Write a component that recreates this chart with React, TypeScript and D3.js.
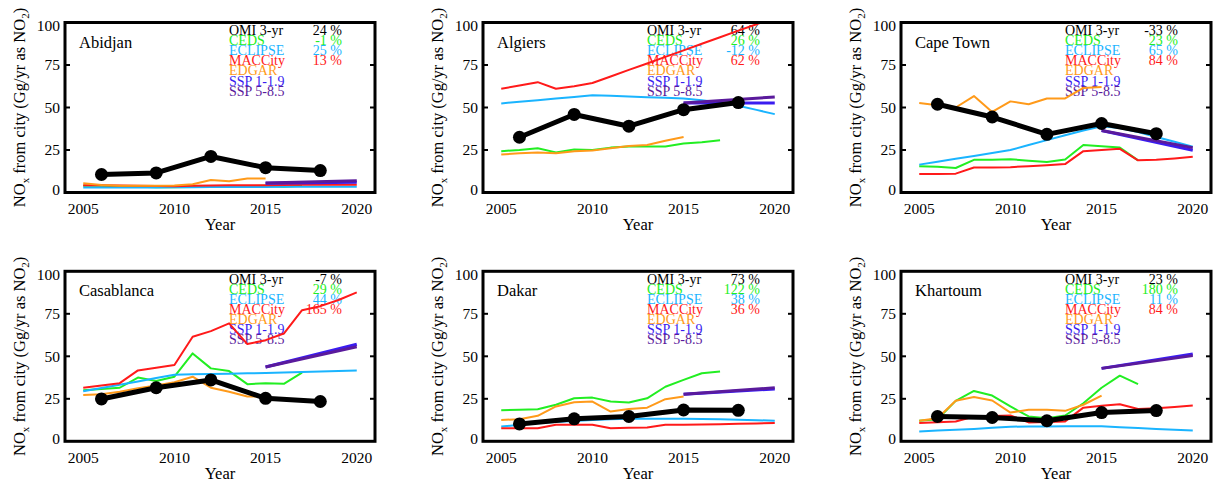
import React, { useEffect, useRef } from 'react';
import * as d3 from 'd3';

// city order: row by row, left to right
const cities = ['Abidjan', 'Algiers', 'Cape Town', 'Casablanca', 'Dakar', 'Khartoum'];

const annualYears = [2005, 2006, 2007, 2008, 2009, 2010, 2011, 2012, 2013, 2014, 2015, 2016, 2017, 2018, 2019, 2020];
const cedsYears = [2005, 2006, 2007, 2008, 2009, 2010, 2011, 2012, 2013, 2014, 2015, 2016, 2017];
const edgarYears = [2005, 2006, 2007, 2008, 2009, 2010, 2011, 2012, 2013, 2014, 2015];
const omiYears = [2006, 2009, 2012, 2015, 2018];
const sspYears = [2015, 2020];

const xTicks = [2005, 2010, 2015, 2020];
const yTicks = [0, 25, 50, 75, 100];

// OMI 3-yr averages (Gg/yr)
const omiValues = [
  [10.6, 11.5, 21.2, 14.6, 12.9],
  [32.5, 45.9, 39, 48.7, 52.9],
  [51.9, 44.4, 34.2, 40.6, 34.6],
  [24.9, 31.5, 36.1, 25.3, 23.4],
  [10.2, 13.2, 14.6, 18.4, 18.2],
  [14.6, 14, 12.1, 16.9, 18.1],
];

const cedsValues = [
  [4, 3.9, 3.7, 3.4, 3.1, 3.1, 3.2, 3.4, 3.5, 3.7, 3.9, 3.4, 3.9],
  [24.3, 25, 26, 23.6, 25.3, 25, 26.4, 27, 27, 27.1, 28.8, 29.6, 30.8],
  [15.4, 15.1, 14.4, 19.2, 19.2, 19.6, 18.7, 17.9, 19.4, 27.9, 27.2, 26.4, 18.9],
  [30, 30.8, 31.5, 37.5, 35.5, 38, 51.7, 42.9, 41.3, 33.6, 34.2, 33.8, 40.4],
  [18.3, 18.5, 18.8, 21.5, 25.3, 25.7, 23.4, 22.8, 25.3, 32.1, 36.1, 40, 41],
  [12.1, 13, 23.8, 29.6, 26.9, 20.5, 14.6, 13.6, 15.2, 22.4, 31.5, 38.6, 33.6],
];

const eclipseValues = [
  [3, 3, 3, 3, 3, 3.1, 3.1, 3.2, 3.2, 3.3, 3.3, 3.4, 3.4, 3.4, 3.4, 3.4],
  [52.4, 53.4, 54.3, 55.3, 56.2, 57.2, 56.9, 56.5, 56.1, 55.8, 55.3, 54.3, 52.9, 51, 48.6, 46.1],
  [16.4, 18.1, 19.8, 21.5, 23.3, 25, 27.9, 30.8, 33.7, 36.5, 38.9, 38, 35.6, 32.7, 29.8, 26.9],
  [29.4, 31.4, 33.3, 35.2, 37.2, 39.1, 39.4, 39.6, 39.8, 40, 40.2, 40.5, 40.8, 41.1, 41.4, 41.7],
  [8.7, 9.7, 10.7, 11.4, 12, 12.6, 12.9, 13.2, 13.2, 13.2, 13.2, 13.1, 12.9, 12.7, 12.4, 12.1],
  [5.7, 6.3, 6.8, 7.3, 8, 8.6, 8.7, 8.7, 8.8, 8.8, 8.8, 8.3, 7.8, 7.3, 6.8, 6.3],
];

const maccityValues = [
  [4.2, 4.2, 4.1, 3.9, 3.8, 3.7, 3.9, 4.1, 4.2, 4.2, 4.3, 4.4, 4.5, 4.5, 4.6, 4.6],
  [61, 63, 64.9, 61, 62.5, 64.4, 68.2, 72.1, 75.9, 79.8, 83.6, 87.5, 91.3, 95.2, 99, 102.8],
  [10.9, 10.9, 11.1, 14.7, 14.7, 14.9, 15.5, 16.1, 16.7, 24.3, 25, 25.7, 18.9, 19.2, 20, 21],
  [31.5, 32.8, 34.2, 41.7, 43.3, 44.9, 61.5, 64.8, 69.4, 57.2, 59.5, 63.4, 77.1, 79.5, 83.1, 87.6],
  [7.7, 7.7, 7.7, 9.7, 9.7, 9.7, 7.7, 7.9, 8.1, 9.7, 9.7, 9.9, 10.1, 10.3, 10.5, 10.7],
  [10.7, 11.2, 11.7, 14.6, 14.9, 15.2, 11.1, 11.3, 11.7, 19.8, 20.9, 21.8, 19, 19.4, 20.2, 21.1],
];

const edgarValues = [
  [5.4, 4.4, 4, 3.9, 3.9, 4.1, 4.8, 7.3, 6.6, 8.3, 8.3],
  [22.3, 23.1, 23.6, 23.1, 24.3, 24.7, 26, 27.3, 27.9, 30.4, 32.7],
  [52.7, 51.3, 50, 56.7, 47.4, 53.6, 51.9, 55.3, 55.3, 61.5, 62],
  [27.3, 27.7, 29.2, 31.2, 32.8, 34.7, 38, 31.5, 29.2, 26.3, 26.3],
  [12.6, 13, 15, 20.5, 23, 23.4, 17.5, 19, 19.8, 24.8, 26.3],
  [12.1, 13.6, 23.8, 26.1, 24, 16.9, 18.6, 18.6, 17.9, 21.5, 26.9],
];

const ssp119Values = [
  [5.4, 6.1],
  [52.7, 52.7],
  [36.5, 24.8],
  [43.7, 57.1],
  [27.7, 30.8],
  [42.9, 51.3],
];

const ssp585Values = [
  [5.6, 6.9],
  [52.7, 56.2],
  [36.5, 26.4],
  [43.7, 55.6],
  [27.7, 31.5],
  [42.9, 50.4],
];

const omiPct = ['24 %', '64 %', '-33 %', '-7 %', '73 %', '23 %'];
const cedsPct = ['-1 %', '26 %', '23 %', '29 %', '122 %', '180 %'];
const eclipsePct = ['25 %', '-12 %', '65 %', '44 %', '38 %', '11 %'];
const maccityPct = ['13 %', '62 %', '84 %', '165 %', '36 %', '84 %'];

const FONT = 'Liberation Serif, serif';

const App = () => {
  const chartRef = useRef(null);

  useEffect(() => {
    const svg = d3
      .select(chartRef.current)
      .append('svg')
      .attr('width', 1219)
      .attr('height', 486)
      .style('position', 'absolute')
      .style('left', '0px')
      .style('top', '0px')
      .style('background', 'white')
      .attr('font-family', FONT);

    const boxW = 310;
    const boxH = 170;

    cities.forEach((city, c) => {
      const left = 65 + (c % 3) * 418;
      const top = 22.5 + Math.floor(c / 3) * 248.8;

      const x = d3.scaleLinear().domain([2004, 2021]).range([0, boxW]);
      const y = d3.scaleLinear().domain([0, 100]).range([boxH, 0]);

      const g = svg.append('g').attr('transform', `translate(${left}, ${top})`);

      g.append('clipPath')
        .attr('id', `clip-${c}`)
        .append('rect')
        .attr('width', boxW)
        .attr('height', boxH);

      // legend
      const legend = [
        { name: 'OMI 3-yr', color: '#000000', pct: omiPct[c] },
        { name: 'CEDS', color: '#22ee22', pct: cedsPct[c] },
        { name: 'ECLIPSE', color: '#1ab4ff', pct: eclipsePct[c] },
        { name: 'MACCity', color: '#ff1a1a', pct: maccityPct[c] },
        { name: 'EDGAR', color: '#ff9a1a', pct: '' },
        { name: 'SSP 1-1.9', color: '#3a1cf0', pct: '' },
        { name: 'SSP 5-8.5', color: '#5a1a9c', pct: '' },
      ];
      legend.forEach((d, i) => {
        g.append('text')
          .attr('x', 164)
          .attr('y', 12.5 + i * 10.1)
          .attr('font-size', 14)
          .attr('fill', d.color)
          .text(d.name);
        if (d.pct) {
          g.append('text')
            .attr('x', 277)
            .attr('y', 12.5 + i * 10.1)
            .attr('font-size', 14)
            .attr('text-anchor', 'end')
            .attr('fill', d.color)
            .text(d.pct);
        }
      });

      g.append('text')
        .attr('x', 14)
        .attr('y', 25)
        .attr('font-size', 16.5)
        .text(city);

      const series = [
        { yrs: cedsYears, vals: cedsValues[c], color: '#22ee22', w: 2 },
        { yrs: annualYears, vals: eclipseValues[c], color: '#1ab4ff', w: 2 },
        { yrs: annualYears, vals: maccityValues[c], color: '#ff1a1a', w: 2 },
        { yrs: edgarYears, vals: edgarValues[c], color: '#ff9a1a', w: 2 },
        { yrs: sspYears, vals: ssp119Values[c], color: '#3a1cf0', w: 3 },
        { yrs: sspYears, vals: ssp585Values[c], color: '#5a1a9c', w: 3 },
        { yrs: omiYears, vals: omiValues[c], color: '#000000', w: 5 },
      ];

      const line = d3
        .line<[number, number]>()
        .x((d) => x(d[0]))
        .y((d) => y(d[1]));

      const plot = g.append('g').attr('clip-path', `url(#clip-${c})`);
      series.forEach((s) => {
        plot
          .append('path')
          .datum(s.yrs.map((yr, i) => [yr, s.vals[i]] as [number, number]))
          .attr('d', line)
          .attr('fill', 'none')
          .attr('stroke', s.color)
          .attr('stroke-width', s.w)
          .attr('stroke-linejoin', 'round');
      });

      // OMI dots
      plot
        .selectAll('circle')
        .data(omiYears.map((yr, i) => [yr, omiValues[c][i]]))
        .enter()
        .append('circle')
        .attr('cx', (d) => x(d[0]))
        .attr('cy', (d) => y(d[1]))
        .attr('r', 6.5)
        .attr('fill', 'black');

      // frame + inward ticks
      g.append('rect')
        .attr('width', boxW)
        .attr('height', boxH)
        .attr('fill', 'none')
        .attr('stroke', 'black')
        .attr('stroke-width', 3);

      yTicks.slice(1, -1).forEach((t) => {
        g.append('line')
          .attr('x1', 0).attr('x2', 5)
          .attr('y1', y(t)).attr('y2', y(t))
          .attr('stroke', 'black').attr('stroke-width', 2);
        g.append('line')
          .attr('x1', boxW - 5).attr('x2', boxW)
          .attr('y1', y(t)).attr('y2', y(t))
          .attr('stroke', 'black').attr('stroke-width', 2);
      });

      // tick labels
      yTicks.forEach((t) => {
        const ty = Math.min(Math.max(y(t), 3), boxH - 3);
        g.append('text')
          .attr('x', -5)
          .attr('y', ty)
          .attr('dy', '0.34em')
          .attr('text-anchor', 'end')
          .attr('font-size', 15.5)
          .text(t);
      });

      xTicks.forEach((t) => {
        g.append('text')
          .attr('x', x(t))
          .attr('y', boxH + 21.5)
          .attr('text-anchor', 'middle')
          .attr('font-size', 15.5)
          .text(t);
      });

      g.append('text')
        .attr('x', boxW / 2)
        .attr('y', boxH + 37.5)
        .attr('text-anchor', 'middle')
        .attr('font-size', 16.5)
        .text('Year');

      const yl = g
        .append('text')
        .attr('transform', `translate(-40, ${boxH / 2}) rotate(-90)`)
        .attr('text-anchor', 'middle')
        .attr('font-size', 16.5);
      yl.append('tspan').text('NO');
      yl.append('tspan').attr('dy', 4).attr('font-size', 11).text('x');
      yl.append('tspan').attr('dy', -4).text(' from city (Gg/yr as NO');
      yl.append('tspan').attr('dy', 4).attr('font-size', 11).text('2');
      yl.append('tspan').attr('dy', -4).text(')');
    });

    return () => {
      d3.select(chartRef.current).selectAll('svg').remove();
    };
  }, []);

  return <div ref={chartRef} />;
};

export default App;
